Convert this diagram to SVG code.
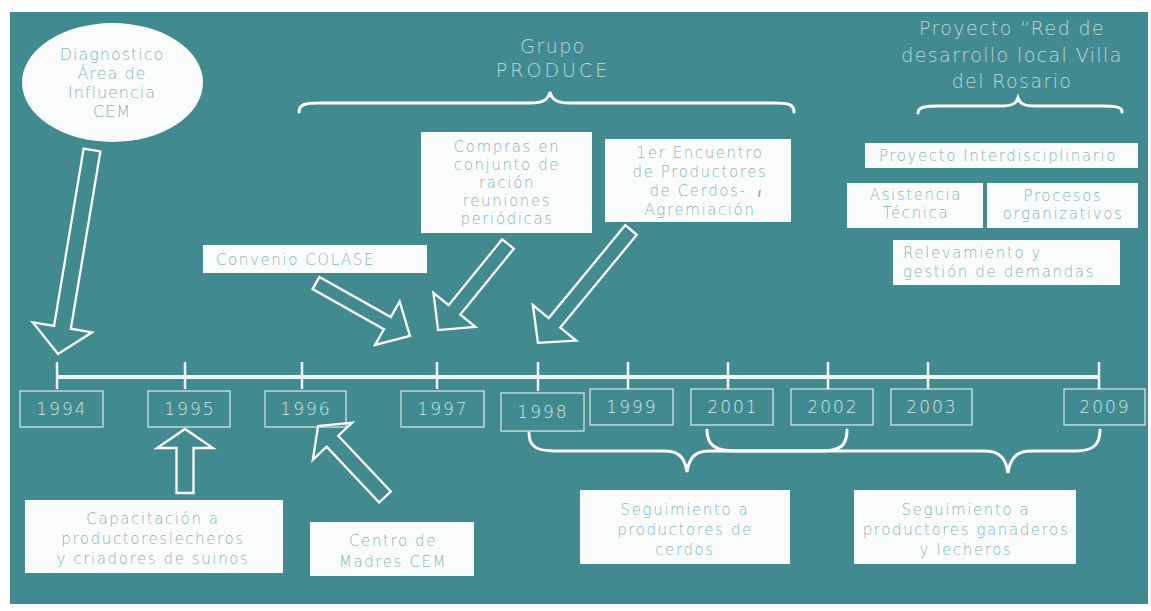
<svg xmlns="http://www.w3.org/2000/svg" width="1151" height="611" viewBox="0 0 1151 611">
<style>
.bg{fill:#418a8f}
.box{fill:#fafcfc;stroke:none}
.bt{font-family:"DejaVu Sans","Liberation Sans",sans-serif;font-weight:200;font-size:15px;letter-spacing:1.6px;fill:#86b5b7;text-anchor:middle}
.ttl{font-family:"DejaVu Sans","Liberation Sans",sans-serif;font-weight:200;font-size:19px;letter-spacing:1.4px;fill:#bcd9da;text-anchor:middle}
.yr{fill:none;stroke:#cfe3e3;stroke-width:1.3}
.yt{font-family:"DejaVu Sans","Liberation Sans",sans-serif;font-weight:200;font-size:17px;letter-spacing:2px;fill:#d3e6e6;text-anchor:middle}
.arr{fill:none;stroke:#ffffff;stroke-width:2.3;stroke-linejoin:miter}
.brace{fill:none;stroke:#ffffff;stroke-width:3;stroke-linecap:round}
.tl{stroke:#eef6f6;stroke-width:4;fill:none}
.tick{stroke:#eef6f6;stroke-width:2.5}
</style>
<rect x="0" y="0" width="1151" height="611" fill="#ffffff"/>
<rect class="bg" x="10" y="12" width="1138" height="592"/>

<g id="timeline">
<line class="tl" x1="57" y1="377" x2="1100" y2="377"/>
<line class="tick" x1="57" y1="362" x2="57" y2="389"/>
<line class="tick" x1="185" y1="362" x2="185" y2="389"/>
<line class="tick" x1="302" y1="362" x2="302" y2="389"/>
<line class="tick" x1="437" y1="362" x2="437" y2="389"/>
<line class="tick" x1="538" y1="362" x2="538" y2="391"/>
<line class="tick" x1="628" y1="362" x2="628" y2="389"/>
<line class="tick" x1="728" y1="362" x2="728" y2="389"/>
<line class="tick" x1="828" y1="362" x2="828" y2="389"/>
<line class="tick" x1="928" y1="362" x2="928" y2="389"/>
<line class="tick" x1="1099" y1="362" x2="1099" y2="389"/>
</g>

<g id="y1994"><rect class="yr" x="20" y="391" width="83" height="36"/><text class="yt" x="62" y="415">1994</text></g>
<g id="y1995"><rect class="yr" x="148" y="391" width="82" height="36"/><text class="yt" x="190" y="415">1995</text></g>
<g id="y1996"><rect class="yr" x="265" y="391" width="81" height="36"/><text class="yt" x="306" y="415">1996</text></g>
<g id="y1997"><rect class="yr" x="401" y="391" width="83" height="36"/><text class="yt" x="443" y="415">1997</text></g>
<g id="y1998"><rect class="yr" x="501" y="393" width="83" height="38"/><text class="yt" x="543" y="418">1998</text></g>
<g id="y1999"><rect class="yr" x="590" y="389" width="83" height="36"/><text class="yt" x="632" y="413">1999</text></g>
<g id="y2001"><rect class="yr" x="691" y="389" width="82" height="36"/><text class="yt" x="733" y="413">2001</text></g>
<g id="y2002"><rect class="yr" x="791" y="389" width="82" height="36"/><text class="yt" x="833" y="413">2002</text></g>
<g id="y2003"><rect class="yr" x="891" y="389" width="81" height="36"/><text class="yt" x="932" y="413">2003</text></g>
<g id="y2009"><rect class="yr" x="1064" y="389" width="81" height="36"/><text class="yt" x="1105" y="413">2009</text></g>

<g id="connectors">
<polygon class="arr" transform="translate(92,150) rotate(99.46)" points="0,-8.5 179.8,-8.5 179.8,-30 206.8,0 179.8,30 179.8,8.5 0,8.5"/>
<polygon class="arr" transform="translate(316,283) rotate(29.4)" points="0,-7 81.9,-7 81.9,-25 107.9,0 81.9,25 81.9,7 0,7"/>
<polygon class="arr" transform="translate(508,244) rotate(129.1)" points="0,-7.5 84.9,-7.5 84.9,-27 110.9,0 84.9,27 84.9,7.5 0,7.5"/>
<polygon class="arr" transform="translate(631,230) rotate(129.5)" points="0,-7.5 120.3,-7.5 120.3,-28 146.3,0 120.3,28 120.3,7.5 0,7.5"/>
<polygon class="arr" transform="translate(185,493) rotate(-90)" points="0,-8.5 45,-8.5 45,-28 64,0 45,28 45,8.5 0,8.5"/>
<polygon class="arr" transform="translate(385,497) rotate(-133.3)" points="0,-8 76.6,-8 76.6,-27 97.6,0 76.6,27 76.6,8 0,8"/>
<path class="brace" d="M299,112 C299,104 306,103 320,103 L530,103 C543,103 548,100 550,92 C552,100 557,103 570,103 L774,103 C788,103 794,104 794,112"/>
<path class="brace" d="M918,113 C918,107 925,106 938,106 L1000,106 C1012,106 1016,104 1018,98 C1020,104 1024,106 1036,106 L1102,106 C1116,106 1122,107 1122,112"/>
<path class="brace" d="M529,433 C529,446 536,451 555,451 L665,451 C680,451 685,459 687,472 C689,459 694,451 709,451 L820,451 C840,451 847,446 847,430"/>
<path class="brace" d="M707,430 C707,444 714,451 735,451 L985,451 C1000,451 1006,459 1008,473 C1010,459 1016,451 1031,451 L1075,451 C1094,451 1100,444 1100,430"/>
</g>

<g id="diagnostico">
<ellipse cx="112.5" cy="82.5" rx="90.5" ry="59.5" fill="#fafcfc"/>
<text class="bt" style="font-size:16px;letter-spacing:1px" x="112" y="60">Diagnostico</text>
<text class="bt" style="font-size:16px;letter-spacing:1px" x="112" y="79">Área de</text>
<text class="bt" style="font-size:16px;letter-spacing:1px" x="112" y="98">Influencia</text>
<text class="bt" style="font-size:16px;letter-spacing:1px" x="112" y="117">CEM</text>
</g>

<g id="grupo-produce">
<text class="ttl" x="553" y="53">Grupo</text>
<text class="ttl" style="letter-spacing:3px" x="553" y="77">PRODUCE</text>
</g>

<g id="proyecto-red">
<text class="ttl" x="1012" y="35">Proyecto “Red de</text>
<text class="ttl" x="1012" y="62">desarrollo local Villa</text>
<text class="ttl" x="1012" y="88">del Rosario</text>
</g>

<g id="compras">
<rect class="box" x="421" y="132" width="171" height="101"/>
<text class="bt" x="507" y="152">Compras en</text>
<text class="bt" x="507" y="170">conjunto de</text>
<text class="bt" x="507" y="188">ración</text>
<text class="bt" x="507" y="206">reuniones</text>
<text class="bt" x="507" y="224">periódicas</text>
</g>

<g id="encuentro">
<rect class="box" x="605" y="139" width="186" height="83"/>
<text class="bt" x="700" y="158">1er Encuentro</text>
<text class="bt" x="700" y="177">de Productores</text>
<text class="bt" x="698" y="196">de Cerdos-</text>
<text class="bt" x="700" y="215">Agremiación</text>
<path d="M760,190 L759,197" stroke="#c8955a" stroke-width="1.5"/>
</g>

<g id="convenio">
<rect class="box" x="203" y="245" width="224" height="28"/>
<text class="bt" x="216" y="265" style="text-anchor:start">Convenio COLASE</text>
</g>

<g id="interdisciplinario">
<rect class="box" x="865" y="143" width="273" height="25"/>
<text class="bt" x="998" y="161">Proyecto Interdisciplinario</text>
</g>

<g id="asistencia">
<rect class="box" x="847" y="183" width="136" height="45"/>
<text class="bt" x="916" y="200">Asistencia</text>
<text class="bt" x="916" y="218">Técnica</text>
</g>

<g id="procesos">
<rect class="box" x="987" y="183" width="151" height="45"/>
<text class="bt" x="1063" y="201">Procesos</text>
<text class="bt" x="1063" y="219">organizativos</text>
</g>

<g id="relevamiento">
<rect class="box" x="893" y="240" width="227" height="45"/>
<text class="bt" x="903" y="258" style="text-anchor:start">Relevamiento y</text>
<text class="bt" x="903" y="277" style="text-anchor:start">gestión de demandas</text>
</g>

<g id="capacitacion">
<rect class="box" x="25" y="500" width="258" height="73"/>
<text class="bt" x="153" y="524">Capacitación a</text>
<text class="bt" x="153" y="544">productoreslecheros</text>
<text class="bt" x="153" y="564">y criadores de suinos</text>
</g>

<g id="centro">
<rect class="box" x="310" y="522" width="164" height="54"/>
<text class="bt" x="393" y="546">Centro de</text>
<text class="bt" x="393" y="567">Madres CEM</text>
</g>

<g id="seg-cerdos">
<rect class="box" x="580" y="490" width="210" height="74"/>
<text class="bt" x="685" y="515">Seguimiento a</text>
<text class="bt" x="685" y="535">productores de</text>
<text class="bt" x="685" y="555">cerdos</text>
</g>

<g id="seg-ganaderos">
<rect class="box" x="854" y="490" width="222" height="74"/>
<text class="bt" x="966" y="515">Seguimiento a</text>
<text class="bt" x="966" y="535">productores ganaderos</text>
<text class="bt" x="966" y="555">y lecheros</text>
</g>
</svg>
